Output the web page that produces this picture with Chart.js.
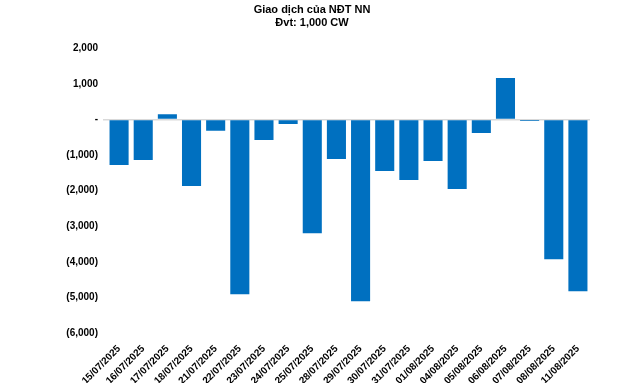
<!DOCTYPE html>
<html>
<head>
<meta charset="utf-8">
<script src="https://cdn.jsdelivr.net/npm/chart.js@4"></script>
<style>
  html, body { margin: 0; padding: 0; background: #fff; }
  #wrap { width: 640px; height: 386px; }
</style>
</head>
<body>
<div id="wrap"><canvas id="ndtChart" width="640" height="386"></canvas></div>
<script>
// dữ liệu giao dịch (đơn vị: 1,000 CW)
const dates = ['15/07/2025', '16/07/2025', '17/07/2025', '18/07/2025', '21/07/2025',
    '22/07/2025', '23/07/2025', '24/07/2025', '25/07/2025', '28/07/2025',
    '29/07/2025', '30/07/2025', '31/07/2025', '01/08/2025', '04/08/2025',
    '05/08/2025', '06/08/2025', '07/08/2025', '08/08/2025', '11/08/2025'];
const netValues = [-1280, -1140, 150, -1870, -320,
    -4910, -575, -125, -3195, -1110,
    -5110, -1450, -1700, -1165, -1955,
    -380, 1165, -40, -3925, -4830];
const titleLines = ['Giao dịch của NĐT NN', 'Đvt: 1,000 CW'];
const yMin = -6000;
const yMax = 2000;
const yStep = 1000;

const FONT = 'Liberation Sans, Arial, sans-serif';

function formatTick(v) {
    if (v === 0) return '-';
    const s = Math.abs(v).toLocaleString('en-US');
    return v < 0 ? '(' + s + ')' : s;
}

function createChart() {
    const ctx = document.getElementById('ndtChart').getContext('2d');
    new Chart(ctx, {
        type: 'bar',
        data: {
            labels: dates,
            datasets: [{
                data: netValues,
                backgroundColor: '#0070c0',
                borderWidth: 0,
                categoryPercentage: 1,
                barPercentage: 0.79
            }]
        },
        options: {
            responsive: false,
            animation: false,
            layout: { padding: { top: 2, left: 0, right: 16, bottom: 3 } },
            plugins: {
                legend: { display: false },
                tooltip: { enabled: false },
                title: {
                    display: true,
                    text: titleLines,
                    color: '#000',
                    font: { family: FONT, size: 11, weight: 'bold', lineHeight: 1.15 },
                    padding: { top: 2, bottom: 19 }
                }
            },
            scales: {
                x: {
                    grid: { display: false },
                    border: { display: false },
                    ticks: {
                        color: '#000',
                        font: { family: FONT, size: 10, weight: 'bold' },
                        minRotation: 45,
                        maxRotation: 45,
                        autoSkip: false,
                        padding: 2
                    },
                    afterFit(scale) { scale.height = 50; }
                },
                y: {
                    min: yMin,
                    max: yMax,
                    border: { display: false },
                    grid: {
                        color: c => c.tick && c.tick.value === 0 ? '#d9d9d9' : 'rgba(0,0,0,0)',
                        lineWidth: 1.5,
                        tickLength: 4
                    },
                    ticks: {
                        stepSize: yStep,
                        color: '#000',
                        font: { family: FONT, size: 10, weight: 'bold' },
                        padding: 5,
                        callback: v => formatTick(v)
                    },
                    afterFit(scale) { scale.width = 107; }
                },
                yRight: {
                    position: 'right',
                    display: true,
                    grid: { display: false },
                    border: { display: false },
                    ticks: { display: false },
                    afterFit(scale) { scale.width = 34; }
                }
            }
        }
    });
}

document.addEventListener('DOMContentLoaded', createChart);
</script>
</body>
</html>
